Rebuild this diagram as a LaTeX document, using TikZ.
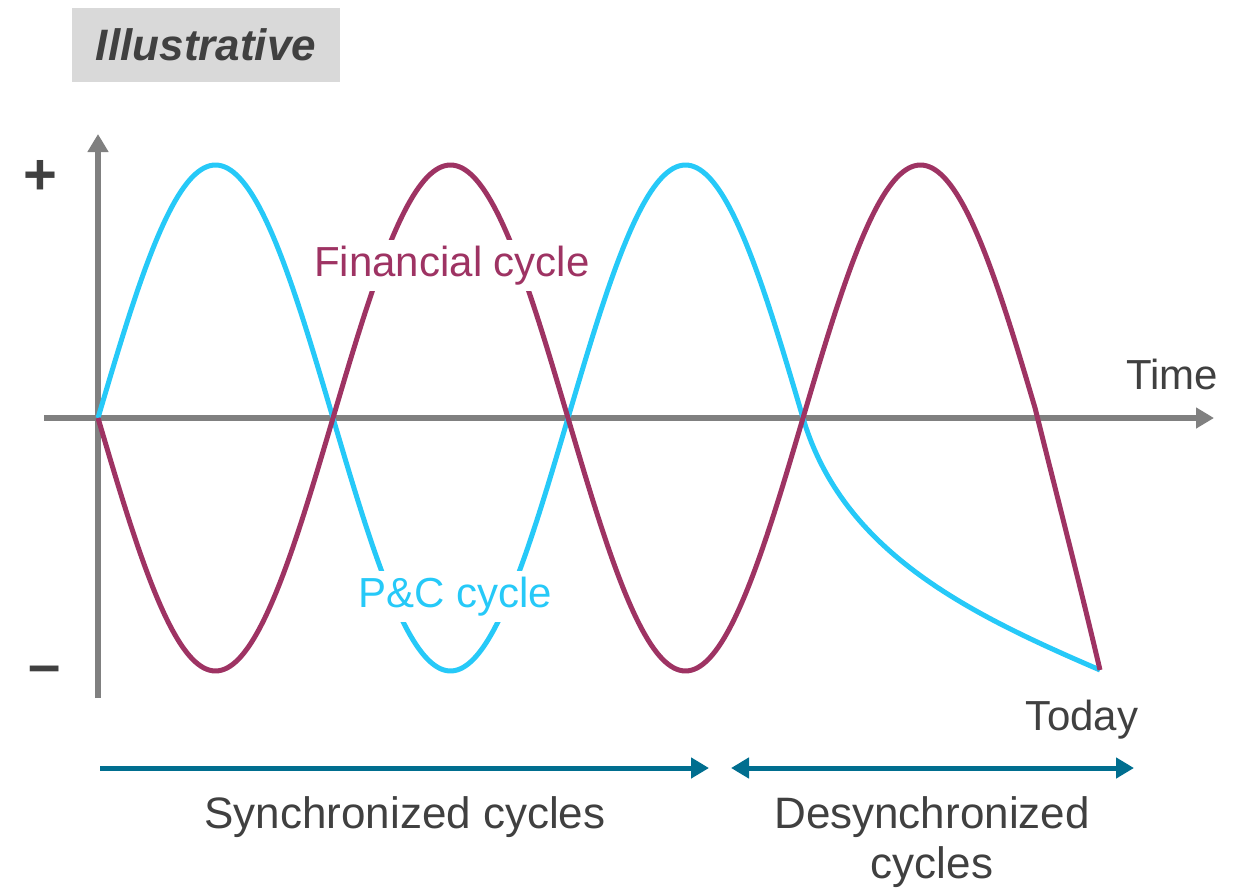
\documentclass[tikz,border=0pt]{standalone}
\usepackage{fontspec}
\setmainfont{Liberation Sans}
\usetikzlibrary{arrows.meta}
\definecolor{pccol}{HTML}{26C9F8}
\definecolor{fincol}{HTML}{9E3363}
\definecolor{tealc}{HTML}{006E8F}
\definecolor{txtc}{HTML}{404040}
\definecolor{axisc}{HTML}{808080}
\definecolor{boxc}{HTML}{D9D9D9}
\tikzset{
  axisline/.style={draw=axisc, line width=5.5pt, -{Triangle[length=18pt,width=20pt]}},
  spanarrow/.style={draw=tealc, line width=5pt},
  pccurve/.style={draw=pccol, line width=5pt, line join=round},
  fincurve/.style={draw=fincol, line width=5pt, line join=round},
  lbl/.style={text=txtc, font=\fontsize{42}{50}\selectfont, inner sep=0pt},
  blbl/.style={text=txtc, font=\fontsize{44}{50}\selectfont, inner sep=0pt, align=center},
  curvelbl/.style={fill=white, font=\fontsize{42}{50}\selectfont, inner xsep=2pt, inner ysep=6pt}
}
\begin{document}
\begin{tikzpicture}[x=1pt,y=-1pt]
\useasboundingbox (0,0) rectangle (1247,888);
% Illustrative box
\node[fill=boxc, minimum width=268pt, minimum height=74pt, inner sep=0pt,
      text=txtc, font=\fontsize{44}{50}\selectfont\bfseries\itshape] (illus) at (206,45) {Illustrative};
% axes
\coordinate (ybot) at (98,698);
\coordinate (ytop) at (98,134);
\coordinate (xleft) at (44,418);
\coordinate (xright) at (1214,418);
\draw[axisline] (ybot) -- (ytop);
\draw[axisline] (xleft) -- (xright);
\node[text=txtc, font=\fontsize{58}{60}\selectfont\bfseries, inner sep=0pt] (plus) at (40,177) {+};
\node[text=txtc, font=\fontsize{58}{60}\selectfont\bfseries, inner sep=0pt] (minus) at (45,675) {–};
\node[lbl, anchor=base] (time) at (1172,389) {Time};
% curves
\coordinate (pcend) at (1100,670);
\draw[pccurve] plot[domain=98:803, samples=240, smooth] (\x, {418-253*sin((\x-98)/470*360)})
  .. controls (843,553) and (970,614) .. (pcend);
\draw[fincurve] plot[domain=98:1035, samples=320, smooth] (\x, {418+253*sin((\x-98)/470*360)})
  .. controls (1058,500) and (1080,585) .. (pcend);
% curve labels
\node[curvelbl, text=fincol, anchor=base] (fin) at (452,276) {Financial cycle};
\node[curvelbl, text=pccol, anchor=base] (pc) at (455,607) {P\&C cycle};
\node[lbl, anchor=base] (today) at (1082,730) {Today};
% span arrows
\coordinate (s1a) at (100,768);
\coordinate (s1b) at (709,768);
\coordinate (s2a) at (731,768);
\coordinate (s2b) at (1134,768);
\draw[spanarrow, -{Triangle[length=18pt,width=20pt]}] (s1a) -- (s1b);
\draw[spanarrow, {Triangle[length=18pt,width=20pt]}-{Triangle[length=18pt,width=20pt]}] (s2a) -- (s2b);
\node[blbl, anchor=base] (sync) at (405,828) {Synchronized cycles};
\node[blbl, anchor=base] (desync) at (932,828) {Desynchronized};
\node[blbl, anchor=base] (desync2) at (932,878) {cycles};
\end{tikzpicture}
\end{document}
